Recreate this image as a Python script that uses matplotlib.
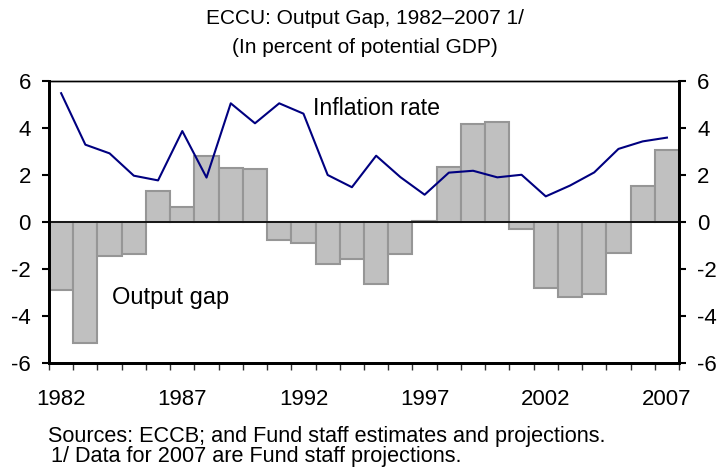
import numpy as np
import matplotlib
matplotlib.use('Agg')
import matplotlib.pyplot as plt

plt.rcParams['font.family'] = ['Liberation Sans', 'DejaVu Sans']

years = list(range(1982, 2008))
output_gap = [-2.88, -5.15, -1.46, -1.35, 1.33, 0.64, 2.79, 2.30, 2.26, -0.75,
              -0.89, -1.77, -1.56, -2.62, -1.35, 0.04, 2.35, 4.18, 4.27, -0.30,
              -2.82, -3.20, -3.08, -1.32, 1.52, 3.06]
inflation = [5.48, 3.29, 2.92, 1.97, 1.77, 3.87, 1.89, 5.05, 4.20, 5.05,
             4.61, 2.00, 1.48, 2.82, 1.91, 1.16, 2.10, 2.18, 1.90, 2.01,
             1.09, 1.55, 2.11, 3.11, 3.43, 3.59]
label_years = ['1982', '1987', '1992', '1997', '2002', '2007']

fig = plt.figure(figsize=(7.24, 4.75), dpi=100)
ax = fig.add_axes([0.0677, 0.2358, 0.8702, 0.5937])

x = np.arange(len(years))
ax.bar(x, output_gap, width=1.0, color='#c0c0c0', edgecolor='#969696', linewidth=1.5, zorder=2)
ax.plot(x, inflation, color='#000080', linewidth=1.5, zorder=3)
ax.axhline(0, color='black', linewidth=1.2, zorder=4)

ax.set_xlim(-0.5, len(years) - 0.5)
ax.set_ylim(-6, 6)
ax.set_yticks(range(-6, 7, 2))
ax.set_yticklabels([str(v) for v in range(-6, 7, 2)], fontsize=16)

# ticks at bar edges, labels at bar centres
ax.set_xticks(np.arange(-0.5, len(years), 1.0))
ax.set_xticklabels([])
lab_pos = [years.index(int(y)) for y in label_years]
ax.set_xticks(lab_pos, minor=True)
ax.set_xticklabels(label_years, minor=True, fontsize=16)
ax.tick_params(axis='x', which='major', direction='out', length=5, width=1, color='#333333')
ax.tick_params(axis='x', which='minor', length=0, pad=19)
ax.tick_params(axis='y', direction='out', length=5, width=1.5, pad=8)

ax2 = ax.twinx()
ax2.set_ylim(-6, 6)
ax2.set_yticks(range(-6, 7, 2))
ax2.set_yticklabels([str(v) for v in range(-6, 7, 2)], fontsize=16)
ax2.tick_params(axis='y', direction='out', length=5, width=1.5, pad=8)

for a in (ax, ax2):
    a.spines['left'].set_linewidth(2)
    a.spines['right'].set_linewidth(2)
    a.spines['bottom'].set_linewidth(2)
    a.spines['top'].set_linewidth(1)

ax.text(10.4, 4.55, 'Inflation rate', fontsize=16.7, ha='left', va='baseline')
ax.text(2.1, -3.49, 'Output gap', fontsize=17, ha='left', va='baseline')

fig.text(0.504, 0.949, 'ECCU: Output Gap, 1982\u20132007 1/', fontsize=15, ha='center', va='baseline')
fig.text(0.504, 0.889, '(In percent of potential GDP)', fontsize=15, ha='center', va='baseline')
fig.text(0.066, 0.0695, 'Sources: ECCB; and Fund staff estimates and projections.', fontsize=15.6, ha='left', va='baseline')
fig.text(0.071, 0.0265, '1/ Data for 2007 are Fund staff projections.', fontsize=15.6, ha='left', va='baseline')

fig.savefig('out.png', dpi=100)
